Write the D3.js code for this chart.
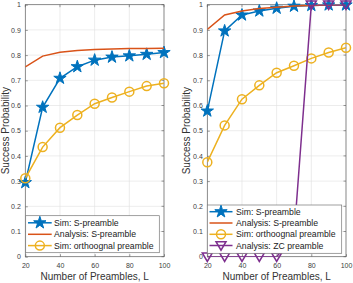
<!DOCTYPE html>
<html><head><meta charset="utf-8">
<script src="https://cdn.jsdelivr.net/npm/d3@7"></script>
<style>body{margin:0;background:#fff}svg{display:block;font-family:"Liberation Sans",Arial,sans-serif}</style>
</head><body>
<script>
const L = [20,30,40,50,60,70,80,90,100];
const xTicks = [20,40,60,80,100];
const yTicks = [0,0.1,0.2,0.3,0.4,0.5,0.6,0.7,0.8,0.9,1];
const yTickLabels = ["0","0.1","0.2","0.3","0.4","0.5","0.6","0.7","0.8","0.9","1"];
const seriesNames = ["Sim: S-preamble","Analysis: S-preamble","Sim: orthoognal preamble","Analysis: ZC preamble"];
// left panel
const simS_a    = [0.294,0.593,0.708,0.754,0.780,0.792,0.797,0.803,0.810];
const anaS_a    = [0.753,0.796,0.811,0.818,0.822,0.824,0.826,0.826,0.827];
const simOrth_a = [0.311,0.435,0.512,0.562,0.607,0.632,0.655,0.677,0.688];
// right panel
const simS_b    = [0.578,0.896,0.959,0.975,0.986,0.994,0.997,0.999,0.999];
const anaS_b    = [0.902,0.959,0.975,0.985,0.990,0.995,0.997,0.999,1.000];
const simOrth_b = [0.375,0.521,0.625,0.680,0.730,0.758,0.787,0.810,0.829];
const anaZC_b   = [0,0,0,0,0,0.08,1,1,1];

const colors = ["#0072BD","#D95319","#EDB120","#7E2F8E"];
const markers = ["star", null, "circle", "tri"];

const W=353,H=283;
const svg = d3.select("body").append("svg").attr("width",W).attr("height",H);

function starPath(R){
  const r = R*0.382; let p="";
  for(let i=0;i<10;i++){
    const a = -Math.PI/2 + i*Math.PI/5;
    const rr = i%2===0?R:r;
    p += (i===0?"M":"L")+(rr*Math.cos(a)).toFixed(2)+","+(rr*Math.sin(a)).toFixed(2);
  }
  return p+"Z";
}
function drawMarker(g,type,color,cx,cy){
  if(type==="star"){
    g.append("path").attr("d",starPath(6.5)).attr("transform",`translate(${cx},${cy})`)
     .attr("fill",color).attr("stroke",color).attr("stroke-width",1).attr("stroke-linejoin","miter");
  } else if(type==="circle"){
    g.append("circle").attr("cx",cx).attr("cy",cy).attr("r",4.5)
     .attr("fill","none").attr("stroke",color).attr("stroke-width",1.5);
  } else if(type==="tri"){
    const s=5;
    g.append("path").attr("d",`M${-s},${-s*0.75}L${s},${-s*0.75}L0,${s*0.95}Z`)
     .attr("transform",`translate(${cx},${cy})`)
     .attr("fill","none").attr("stroke",color).attr("stroke-width",1.5);
  }
}

function panel(id, x0, x1, datas, leg){
  const y0=256.7, y1=4.7;
  const x = d3.scaleLinear().domain([20,100]).range([x0,x1]);
  const y = d3.scaleLinear().domain([0,1]).range([y0,y1]);
  const g = svg.append("g");
  // grid
  g.append("g").selectAll("line").data(xTicks).join("line")
    .attr("x1",d=>x(d)).attr("x2",d=>x(d)).attr("y1",y0).attr("y2",y1)
    .attr("stroke","#dfdfdf").attr("stroke-width",0.6);
  g.append("g").selectAll("line").data(yTicks).join("line")
    .attr("y1",d=>y(d)).attr("y2",d=>y(d)).attr("x1",x0).attr("x2",x1)
    .attr("stroke","#dfdfdf").attr("stroke-width",0.6);
  // axes
  const ax = d3.axisBottom(x).tickValues(xTicks).tickSize(-2.5).tickPadding(6).tickFormat(d3.format("d"));
  const gx = g.append("g").attr("transform",`translate(0,${y0})`).call(ax);
  const ay = d3.axisLeft(y).tickValues(yTicks).tickSize(-2.5).tickPadding(4.5).tickFormat((d,i)=>yTickLabels[i]);
  const gy = g.append("g").attr("transform",`translate(${x0},0)`).call(ay);
  [gx,gy].forEach(a=>{
    a.select(".domain").remove();
    a.selectAll("line").attr("stroke","#555").attr("stroke-width",0.6);
    a.selectAll("text").attr("fill","#404040").style("font-size","7px").style("font-family","Liberation Sans, Arial, sans-serif");
  });
  // box
  g.append("rect").attr("x",x0).attr("y",y1).attr("width",x1-x0).attr("height",y0-y1)
    .attr("fill","none").attr("stroke","#666").attr("stroke-width",0.7);
  // top/right ticks
  g.append("g").selectAll("line").data(xTicks).join("line")
    .attr("x1",d=>x(d)).attr("x2",d=>x(d)).attr("y1",y1).attr("y2",y1+2.5).attr("stroke","#555").attr("stroke-width",0.6);
  g.append("g").selectAll("line").data(yTicks).join("line")
    .attr("y1",d=>y(d)).attr("y2",d=>y(d)).attr("x1",x1).attr("x2",x1-2.5).attr("stroke","#555").attr("stroke-width",0.6);
  // clip
  svg.append("clipPath").attr("id",id).append("rect").attr("x",x0).attr("y",y1).attr("width",x1-x0).attr("height",y0-y1);
  const line = d3.line().x((d,i)=>x(L[i])).y(d=>y(d));
  datas.forEach((vals,k)=>{
    g.append("path").attr("d",line(vals)).attr("fill","none").attr("stroke",colors[k])
      .attr("stroke-width",1.5).attr("clip-path",`url(#${id})`);
    if(markers[k]){
      const mg = g.append("g");
      vals.forEach((v,i)=>{ if(v>=0 && v<=1) drawMarker(mg,markers[k],colors[k],x(L[i]),y(v)); });
    }
  });
  // labels
  g.append("text").attr("x",(x0+x1)/2).attr("y",280).attr("text-anchor","middle")
    .attr("fill","#333").style("font-size","10px").text("Number of Preambles, L");
  g.append("text").attr("transform",`translate(${leg.ylx},${(y0+y1)/2}) rotate(-90)`).attr("text-anchor","middle")
    .attr("fill","#333").style("font-size","10px").text("Success Probability");
  // legend
  const lg = g.append("g");
  lg.append("rect").attr("x",leg.x).attr("y",leg.y).attr("width",leg.w).attr("height",leg.h)
    .attr("fill","#fff").attr("stroke","#777").attr("stroke-width",0.7);
  datas.forEach((vals,k)=>{
    const yy = leg.rows[k];
    lg.append("line").attr("x1",leg.sx0).attr("x2",leg.sx1).attr("y1",yy).attr("y2",yy)
      .attr("stroke",colors[k]).attr("stroke-width",1.5);
    if(markers[k]) drawMarker(lg,markers[k],colors[k],(leg.sx0+leg.sx1)/2,yy);
    lg.append("text").attr("x",leg.tx).attr("y",yy+3).attr("fill","#222")
      .style("font-size","8.7px").text(seriesNames[k]);
  });
}

panel("clipA",25.3,164,[simS_a,anaS_a,simOrth_a],
  {x:25.7,y:215.7,w:133.6,h:37,rows:[222.8,234.3,245.6],sx0:28,sx1:51.7,tx:54,ylx:9});
panel("clipB",207.3,346,[simS_b,anaS_b,simOrth_b,anaZC_b],
  {x:207.3,y:205,w:134.4,h:48.3,rows:[211.7,223,234.3,245.5],sx0:209.5,sx1:232.5,tx:236,ylx:190});
</script>
</body></html>
